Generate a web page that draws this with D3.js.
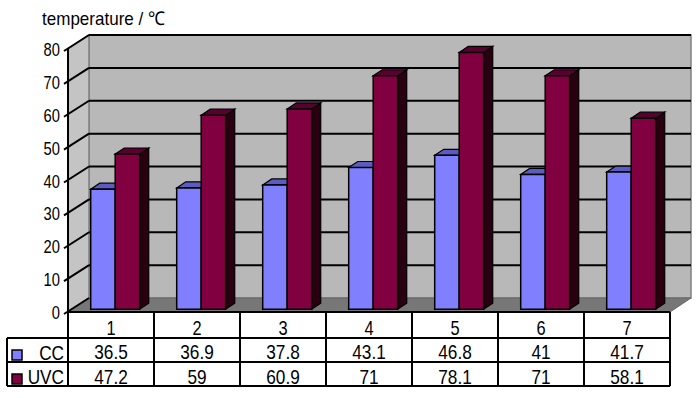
<!DOCTYPE html>
<html>
<head>
<meta charset="utf-8">
<script src="https://cdn.jsdelivr.net/npm/d3@7"></script>
<style>
  body { margin: 0; background: #fff; }
  text { font-family: "Liberation Sans", Arial, sans-serif; fill: #000; }
</style>
</head>
<body>
<svg id="chart"></svg>
<script>
let width = 700,
  height = 398;

// data
const categories = ["1", "2", "3", "4", "5", "6", "7"];
const seriesNames = ["CC", "UVC"];
const ccValues = [36.5, 36.9, 37.8, 43.1, 46.8, 41, 41.7];
const uvcValues = [47.2, 59, 60.9, 71, 78.1, 71, 58.1];
const yTicks = [0, 10, 20, 30, 40, 50, 60, 70, 80];
const colors = ["#8080ff", "#800040"];
const topColors = ["#5c5cc0", "#5a0030"];
const sideColors = ["#3a3a90", "#2a0010"];

let svg = d3.select("#chart").attr("width", width).attr("height", height);

// scales
let x = d3.scaleBand().domain(categories).range([68, 670]);
let y = d3.scaleLinear().domain([0, 80]).range([312, 49]);
let inner = d3.scaleBand().domain(seriesNames).range([0, 49]);

// depth offset of the 3d box
const DX = 21, DY = -14;
function p(px, py, d) {
  return [px + DX * d, py + DY * d];
}
function poly(pts) {
  return pts.map((q) => q.join(",")).join(" ");
}

// condensed text like the original
function label(g, tx, ty, str, size, anchor) {
  return g.append("text")
    .attr("transform", "translate(" + tx + "," + ty + ") scale(0.82,1)")
    .attr("text-anchor", anchor)
    .style("font-size", size + "px")
    .text(str);
}

// walls
let walls = svg.append("g");
walls.append("polygon")
  .attr("points", poly([p(68, y(80), 1), p(670, y(80), 1), p(670, y(0), 1), p(68, y(0), 1)]))
  .attr("fill", "#b8b8b8").attr("stroke", "#808080").attr("stroke-width", 1.5);
walls.append("polygon")
  .attr("points", poly([p(68, y(80), 0), p(68, y(80), 1), p(68, y(0), 1), p(68, y(0), 0)]))
  .attr("fill", "#c4c4c4").attr("stroke", "#808080").attr("stroke-width", 1.5);
walls.append("polygon")
  .attr("points", poly([p(68, y(0), 0), p(68, y(0), 1), p(670, y(0), 1), p(670, y(0), 0)]))
  .attr("fill", "#777777").attr("stroke", "#666").attr("stroke-width", 1);

// gridlines
let grid = svg.append("g");
yTicks.forEach((t) => {
  if (t > 0) {
    grid.append("line")
      .attr("x1", p(68, y(t), 1)[0]).attr("y1", p(68, y(t), 1)[1])
      .attr("x2", p(670, y(t), 1)[0]).attr("y2", p(670, y(t), 1)[1])
      .attr("stroke", "#000").attr("stroke-width", 2);
  }
  grid.append("line")
    .attr("x1", 64).attr("y1", y(t) + 2)
    .attr("x2", p(68, y(t), 1)[0]).attr("y2", p(68, y(t), 1)[1])
    .attr("stroke", "#000").attr("stroke-width", 2);
  label(svg, 60, y(t) + 7, t, 18, "end");
});
grid.append("line")
  .attr("x1", 68).attr("y1", y(80)).attr("x2", 68).attr("y2", y(0))
  .attr("stroke", "#000").attr("stroke-width", 2);

// bars
const d0 = 0.2, d1 = 0.63;
let bars = svg.append("g");
categories.forEach((c, i) => {
  [ccValues[i], uvcValues[i]].forEach((v, s) => {
    let x0 = x(c) + (x.bandwidth() - 49) / 2 + inner(seriesNames[s]);
    let x1 = x0 + inner.bandwidth();
    let yt = y(v), yb = y(0);
    // side
    bars.append("polygon")
      .attr("points", poly([p(x1, yt, d0), p(x1, yt, d1), p(x1, yb, d1), p(x1, yb, d0)]))
      .attr("fill", sideColors[s]).attr("stroke", "#000").attr("stroke-width", 1.2);
    // top
    bars.append("polygon")
      .attr("points", poly([p(x0, yt, d0), p(x0, yt, d1), p(x1, yt, d1), p(x1, yt, d0)]))
      .attr("fill", topColors[s]).attr("stroke", "#000").attr("stroke-width", 1.2);
    // front
    bars.append("polygon")
      .attr("points", poly([p(x0, yt, d0), p(x1, yt, d0), p(x1, yb, d0), p(x0, yb, d0)]))
      .attr("fill", colors[s]).attr("stroke", "#000").attr("stroke-width", 1.5);
  });
});

// title
svg.append("text")
  .attr("x", 42).attr("y", 25)
  .attr("textLength", 123)
  .attr("lengthAdjust", "spacingAndGlyphs")
  .style("font-size", "19px")
  .text("temperature / ℃");

// data table
let table = svg.append("g");
const rowY = [312, 338, 362, 386];
let lines = [
  [68, rowY[0], 670, rowY[0]],
  [7, rowY[1], 670, rowY[1]],
  [7, rowY[2], 670, rowY[2]],
  [7, rowY[3], 670, rowY[3]],
  [7, rowY[1], 7, rowY[3]],
  [68, rowY[0], 68, rowY[3]],
];
categories.forEach((c) => {
  lines.push([x(c) + x.bandwidth(), rowY[0], x(c) + x.bandwidth(), rowY[3]]);
});
lines.forEach((l) => {
  table.append("line")
    .attr("x1", l[0]).attr("y1", l[1]).attr("x2", l[2]).attr("y2", l[3])
    .attr("stroke", "#000").attr("stroke-width", 2);
});
categories.forEach((c, i) => {
  let cx = x(c) + x.bandwidth() / 2;
  label(table, cx, 335, c, 20, "middle");
  label(table, cx, 359, ccValues[i], 21, "middle");
  label(table, cx, 384, uvcValues[i], 21, "middle");
});
seriesNames.forEach((n, s) => {
  let top = rowY[s + 1];
  table.append("rect")
    .attr("x", 12).attr("y", top + 12).attr("width", 10).attr("height", 10)
    .attr("fill", colors[s]).attr("stroke", "#000").attr("stroke-width", 1.5);
  label(table, 64, top + 21.5, n, 21, "end");
});
</script>
</body>
</html>
